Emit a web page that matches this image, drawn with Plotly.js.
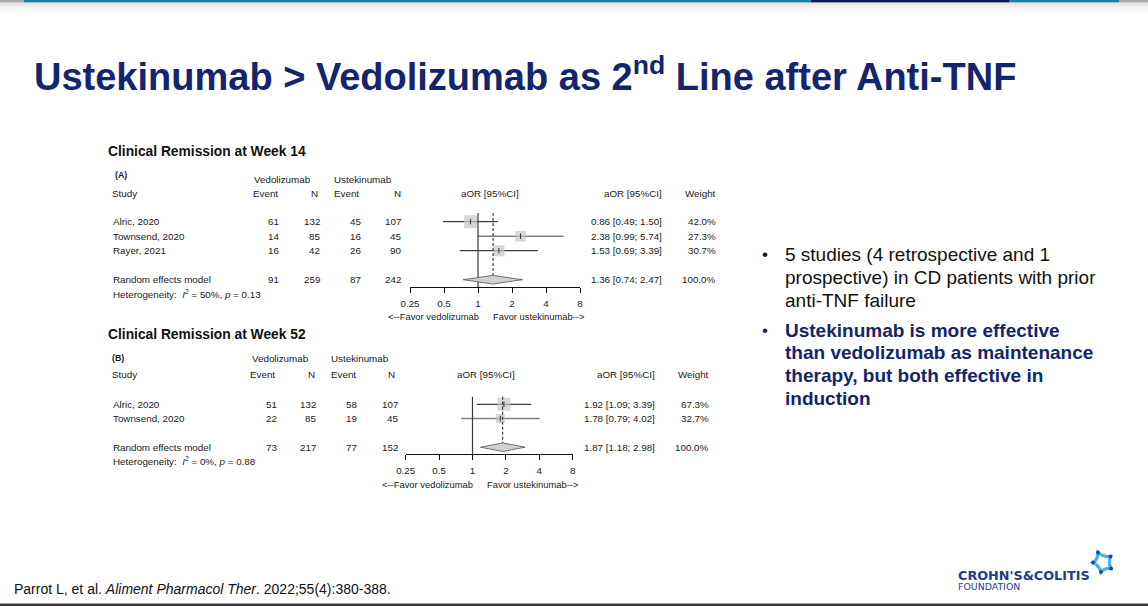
<!DOCTYPE html>
<html>
<head>
<meta charset="utf-8">
<script src="https://cdn.plot.ly/plotly-3.0.1.min.js"></script>
<style>
  html, body { margin: 0; padding: 0; background: #ffffff; }
  #chart { width: 1148px; height: 606px; }
</style>
</head>
<body>
<div id="chart"></div>
<script>
// ---------------- DATA ----------------
// Panel A: Clinical Remission at Week 14
const titleA = 'Clinical Remission at Week 14';
const studiesA = ['Alric, 2020', 'Townsend, 2020', 'Rayer, 2021'];
const vedoEventA = [61, 14, 16];
const vedoNA = [132, 85, 42];
const usteEventA = [45, 16, 26];
const usteNA = [107, 45, 90];
const aorA = [0.86, 2.38, 1.53];
const loA = [0.49, 0.99, 0.69];
const hiA = [1.50, 5.74, 3.39];
const weightA = [42.0, 27.3, 30.7];
const reTotalsA = [91, 259, 87, 242];
const reAorA = [1.36, 0.74, 2.47];   // estimate, lower, upper
const hetA = ['50%', '0.13'];

// Panel B: Clinical Remission at Week 52
const titleB = 'Clinical Remission at Week 52';
const studiesB = ['Alric, 2020', 'Townsend, 2020'];
const vedoEventB = [51, 22];
const vedoNB = [132, 85];
const usteEventB = [58, 19];
const usteNB = [107, 45];
const aorB = [1.92, 1.78];
const loB = [1.09, 0.79];
const hiB = [3.39, 4.02];
const weightB = [67.3, 32.7];
const reTotalsB = [73, 217, 77, 152];
const reAorB = [1.87, 1.18, 2.98];
const hetB = ['0%', '0.88'];

const tickVals = [0.25, 0.5, 1, 2, 4, 8];
const tickLabels = ['0.25', '0.5', '1', '2', '4', '8'];

const slideTitle = 'Ustekinumab > Vedolizumab as 2<sup>nd</sup> Line after Anti-TNF';
const bullet1 = ['5 studies (4 retrospective and 1', 'prospective) in CD patients with prior', 'anti-TNF failure'];
const bullet2 = ['Ustekinumab is more effective', 'than vedolizumab as maintenance', 'therapy, but both effective in', 'induction'];
const citation = 'Parrot L, et al. <i>Aliment Pharmacol Ther</i>. 2022;55(4):380-388.';

// ---------------- LAYOUT HELPERS ----------------
const W = 1148, H = 606;
const FONT = 'Liberation Sans, Arial, Helvetica, sans-serif';
const LOGOFONT = 'DejaVu Sans, Verdana, sans-serif';
const NAVY = '#14246e';
const TXT = '#1a1a1a';

function ann(text, x, y, o) {
  o = o || {};
  return {
    text: text, x: x / W, y: 1 - y / H, xref: 'paper', yref: 'paper',
    showarrow: false, xanchor: o.xa || 'left', yanchor: 'middle',
    borderpad: 0,
    font: { family: o.family || FONT, size: o.size || 9.8, color: o.color || TXT }
  };
}
function pt(x, y) { return (x / W) + ',' + (1 - y / H); }
function rect(x0, y0, x1, y1, color) {
  return { type: 'rect', xref: 'paper', yref: 'paper', x0: x0 / W, x1: x1 / W, y0: 1 - y0 / H, y1: 1 - y1 / H,
           fillcolor: color, line: { width: 0 }, layer: 'above' };
}

const panels = [
  {
    title: titleA, label: '(A)', studies: studiesA, ve: vedoEventA, vn: vedoNA, ue: usteEventA, un: usteNA,
    aor: aorA, lo: loA, hi: hiA, w: weightA, tot: reTotalsA, re: reAorA, het: hetA,
    xa: 'x', ya: 'y', xk: 'xaxis', yk: 'yaxis', rows: [0, 1, 2], reRow: 4,
    y0: 221.7, step: 14.5, titleY: 152, labX: 114, labY: 175, grpY: 179.3, headY: 193.3,
    axisY: 287, topY: 213, hetY: 294.3, favY: 316.7,
    c: { ve: 279.5, vn: 321, ue: 361.7, un: 402, vedHdr: 252.7, usteHdr: 332.7, ev1: 251.7, n1: 318.5,
         ev2: 333, n2: 401.7, axL: 410, axR: 580, aorHdr: 490, ci: 663.3, wt: 717.3, favL: 479.5, favR: 491.5 }
  },
  {
    title: titleB, label: '(B)', studies: studiesB, ve: vedoEventB, vn: vedoNB, ue: usteEventB, un: usteNB,
    aor: aorB, lo: loB, hi: hiB, w: weightB, tot: reTotalsB, re: reAorB, het: hetB,
    xa: 'x2', ya: 'y2', xk: 'xaxis2', yk: 'yaxis2', rows: [0, 1], reRow: 3,
    y0: 404.3, step: 14.3, titleY: 334, labX: 111.5, labY: 358.3, grpY: 358.3, headY: 374.3,
    axisY: 454, topY: 396.7, hetY: 461, favY: 484,
    c: { ve: 277.7, vn: 316.7, ue: 358.3, un: 399.3, vedHdr: 250.7, usteHdr: 330, ev1: 249, n1: 316.3,
         ev2: 330, n2: 396, axL: 405.7, axR: 572.7, aorHdr: 485.7, ci: 656, wt: 710, favL: 474, favR: 485.7 }
  }
];

const traces = [];
const annotations = [];
const shapes = [];
const layout = {
  width: W, height: H, margin: { l: 0, r: 0, t: 0, b: 0 },
  paper_bgcolor: '#ffffff', plot_bgcolor: 'rgba(0,0,0,0)', showlegend: false,
  font: { family: FONT, color: TXT }
};

panels.forEach(function (p) {
  const c = p.c;
  const rowPx = function (r) { return p.y0 + r * p.step; };
  const axisRow = (p.axisY - p.y0) / p.step;
  const domTopPx = p.y0 - 1.4 * p.step;
  const domTopRow = (domTopPx - p.y0) / p.step;
  const nullTopRow = (p.topY - p.y0) / p.step;
  const dHalf = 0.3;

  layout[p.xk] = {
    type: 'log', domain: [c.axL / W, c.axR / W],
    range: [Math.log10(tickVals[0]), Math.log10(tickVals[tickVals.length - 1])],
    tickmode: 'array', tickvals: tickVals, ticktext: tickLabels,
    ticks: 'outside', ticklen: 5, tickwidth: 1, tickcolor: '#111',
    showline: true, linecolor: '#111', linewidth: 1, mirror: false,
    showgrid: false, zeroline: false, fixedrange: true,
    tickfont: { family: FONT, size: 9.8, color: TXT },
    anchor: p.ya, ticklabelstandoff: 2
  };
  layout[p.yk] = {
    domain: [1 - p.axisY / H, 1 - domTopPx / H], range: [axisRow, domTopRow],
    visible: false, showgrid: false, zeroline: false, fixedrange: true, anchor: p.xa
  };

  const maxW = Math.max.apply(null, p.w);
  // CI lines
  p.aor.forEach(function (v, i) {
    const isGray = p.studies[i].indexOf('Townsend') === 0;
    traces.push({
      type: 'scatter', mode: 'lines', xaxis: p.xa, yaxis: p.ya, cliponaxis: false, hoverinfo: 'skip',
      x: [p.lo[i], p.hi[i]], y: [p.rows[i], p.rows[i]],
      line: { color: isGray ? '#808080' : '#111111', width: isGray ? 1.5 : 1 }
    });
  });
  // squares
  traces.push({
    type: 'scatter', mode: 'markers', xaxis: p.xa, yaxis: p.ya, cliponaxis: false, hoverinfo: 'skip',
    x: p.aor, y: p.rows,
    marker: { symbol: 'square', color: '#c6c6c6', size: p.w.map(function (w) { return 13 * Math.sqrt(w / maxW); }), line: { width: 0 } }
  });
  // point estimate ticks
  traces.push({
    type: 'scatter', mode: 'markers', xaxis: p.xa, yaxis: p.ya, cliponaxis: false, hoverinfo: 'skip',
    x: p.aor, y: p.rows,
    marker: { symbol: 'line-ns', size: 4, line: { color: '#333333', width: 1 } }
  });
  // line of no effect
  traces.push({
    type: 'scatter', mode: 'lines', xaxis: p.xa, yaxis: p.ya, cliponaxis: false, hoverinfo: 'skip',
    x: [1, 1], y: [nullTopRow, axisRow], line: { color: '#3a3a3a', width: 1.2 }
  });
  // random-effects dashed line
  traces.push({
    type: 'scatter', mode: 'lines', xaxis: p.xa, yaxis: p.ya, cliponaxis: false, hoverinfo: 'skip',
    x: [p.re[0], p.re[0]], y: [nullTopRow, p.reRow - dHalf],
    line: { color: '#222222', width: 1, dash: '3px,2px' }
  });
  // diamond
  traces.push({
    type: 'scatter', mode: 'lines', xaxis: p.xa, yaxis: p.ya, cliponaxis: false, hoverinfo: 'skip',
    x: [p.re[1], p.re[0], p.re[2], p.re[0], p.re[1]],
    y: [p.reRow, p.reRow - dHalf, p.reRow, p.reRow + dHalf, p.reRow],
    fill: 'toself', fillcolor: '#d0d0d0', line: { color: '#505050', width: 0.8 }
  });

  // ---- text ----
  annotations.push(ann('<b>' + p.title + '</b>', 107, p.titleY, { size: 13.8, color: '#111' }));
  annotations.push(ann('<b>' + p.label + '</b>', p.labX, p.labY, { size: 8.8 }));
  annotations.push(ann('Vedolizumab', c.vedHdr, p.grpY));
  annotations.push(ann('Ustekinumab', c.usteHdr, p.grpY));
  annotations.push(ann('Study', 111.5, p.headY));
  annotations.push(ann('Event', c.ev1, p.headY));
  annotations.push(ann('N', c.n1, p.headY, { xa: 'right' }));
  annotations.push(ann('Event', c.ev2, p.headY));
  annotations.push(ann('N', c.n2, p.headY, { xa: 'right' }));
  annotations.push(ann('aOR [95%CI]', c.aorHdr, p.headY, { xa: 'center' }));
  annotations.push(ann('aOR [95%CI]', c.ci, p.headY, { xa: 'right' }));
  annotations.push(ann('Weight', c.wt, p.headY, { xa: 'right' }));

  const fmtCI = function (e, l, u) { return e.toFixed(2) + ' [' + l.toFixed(2) + '; ' + u.toFixed(2) + ']'; };
  p.studies.forEach(function (s, i) {
    const y = rowPx(p.rows[i]);
    annotations.push(ann(s, 111.5, y));
    annotations.push(ann(String(p.ve[i]), c.ve, y, { xa: 'right' }));
    annotations.push(ann(String(p.vn[i]), c.vn, y, { xa: 'right' }));
    annotations.push(ann(String(p.ue[i]), c.ue, y, { xa: 'right' }));
    annotations.push(ann(String(p.un[i]), c.un, y, { xa: 'right' }));
    annotations.push(ann(fmtCI(p.aor[i], p.lo[i], p.hi[i]), c.ci, y, { xa: 'right' }));
    annotations.push(ann(p.w[i].toFixed(1) + '%', c.wt, y, { xa: 'right' }));
  });
  const ry = rowPx(p.reRow);
  annotations.push(ann('Random effects model', 111.5, ry));
  annotations.push(ann(String(p.tot[0]), c.ve, ry, { xa: 'right' }));
  annotations.push(ann(String(p.tot[1]), c.vn, ry, { xa: 'right' }));
  annotations.push(ann(String(p.tot[2]), c.ue, ry, { xa: 'right' }));
  annotations.push(ann(String(p.tot[3]), c.un, ry, { xa: 'right' }));
  annotations.push(ann(fmtCI(p.re[0], p.re[1], p.re[2]), c.ci, ry, { xa: 'right' }));
  annotations.push(ann('100.0%', c.wt, ry, { xa: 'right' }));
  annotations.push(ann('Heterogeneity:  <i>I</i><sup>2</sup> = ' + p.het[0] + ', <i>p</i> = ' + p.het[1], 111.5, p.hetY));
  annotations.push(ann('&lt;--Favor vedolizumab', c.favL, p.favY, { xa: 'right', size: 9.4 }));
  annotations.push(ann('Favor ustekinumab--&gt;', c.favR, p.favY, { size: 9.4 }));
});

// ---- slide title, bullets, citation, logo ----
annotations.push(ann('<b>' + slideTitle + '</b>', 33, 74, { size: 38, color: NAVY }));
annotations.push(ann('•', 761, 255, { size: 17, color: '#111' }));
bullet1.forEach(function (t, i) { annotations.push(ann(t, 783.5, 255 + i * 22.6, { size: 19, color: '#111' })); });
annotations.push(ann('•', 761, 330, { size: 17, color: NAVY }));
bullet2.forEach(function (t, i) { annotations.push(ann('<b>' + t + '</b>', 783.5, 330 + i * 22.7, { size: 19, color: NAVY })); });
annotations.push(ann(citation, 12.5, 589, { size: 14, color: '#111' }));
annotations.push(ann('<b>CROHN\'S&amp;COLITIS</b>', 956.5, 575.5, { size: 12.8, color: '#1f3c8c', family: LOGOFONT }));
annotations.push(ann('FOUNDATION', 957, 586, { size: 9.4, color: '#1f3c8c', family: LOGOFONT }));

// ---- decorations ----
// top bar + shadow
for (let k = 0; k < 7; k++) {
  const a = [0.13, 0.09, 0.06, 0.04, 0.025, 0.014, 0.006][k];
  shapes.push(rect(0, 2 + k * 1.8, W, 2 + (k + 1) * 1.8, 'rgba(0,0,0,' + a + ')'));
}
shapes.push(rect(0, 0, W, 2.2, '#a9a9a9'));
shapes.push(rect(24, 0, 811, 2.2, '#0f86aa'));
shapes.push(rect(811, 0, 1009, 2.2, '#0c1654'));
shapes.push(rect(1009, 0, 1119, 2.2, '#0f86aa'));
// bottom rule
shapes.push(rect(0, 603.6, W, 606, '#3b3b3b'));
// logo mark
const V = [[1098, 552.5], [1110.5, 556.5], [1111, 568.5], [1101, 572], [1093, 562.5]];
const cx = 1103, cy = 562.5;
let d = 'M' + pt(V[0][0], V[0][1]);
for (let i = 0; i < V.length; i++) {
  const a = V[i], b = V[(i + 1) % V.length];
  const mx = (a[0] + b[0]) / 2, my = (a[1] + b[1]) / 2;
  const qx = mx + (cx - mx) * 0.35, qy = my + (cy - my) * 0.35;
  d += ' Q' + pt(qx, qy) + ' ' + pt(b[0], b[1]);
}
d += ' Z';
shapes.push({ type: 'path', xref: 'paper', yref: 'paper', path: d, line: { color: '#44b3e6', width: 3.2 }, fillcolor: 'rgba(0,0,0,0)', layer: 'above' });
V.forEach(function (v) {
  shapes.push({ type: 'circle', xref: 'paper', yref: 'paper', x0: (v[0] - 1.9) / W, x1: (v[0] + 1.9) / W,
                y0: 1 - (v[1] + 1.9) / H, y1: 1 - (v[1] - 1.9) / H, fillcolor: '#1a4a9c', line: { width: 0 }, layer: 'above' });
});

layout.annotations = annotations;
layout.shapes = shapes;

Plotly.newPlot('chart', traces, layout, { staticPlot: true, displayModeBar: false });
</script>
</body>
</html>
